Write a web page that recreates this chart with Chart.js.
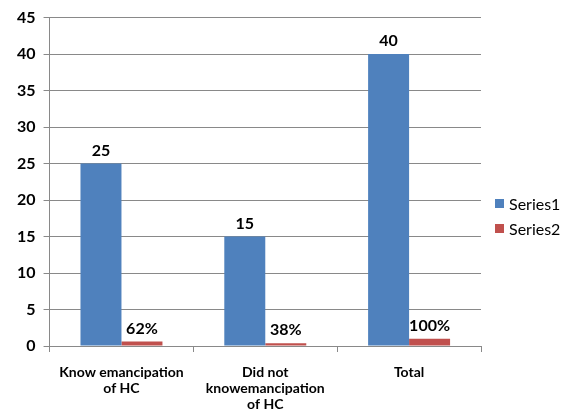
<!DOCTYPE html>
<html>
<head>
<meta charset="utf-8">
<script src="https://cdn.jsdelivr.net/npm/chart.js@4"></script>
<style>
  body { margin: 0; background: #fff; }
  #wrap { position: relative; width: 571px; height: 412px; }
  #legend { position: absolute; left: 495px; top: 191px; font-family: Lato, sans-serif; font-size: 16px; color: #000; }
  #legend div { height: 25px; display: flex; align-items: center; }
  #legend span { display: inline-block; width: 9px; height: 9px; margin-right: 5px; }
</style>
</head>
<body>
<div id="wrap">
  <canvas id="chart" width="571" height="412"></canvas>
  <div id="legend"></div>
</div>
<script>
const categories = [['Know emancipation', 'of HC'], ['Did not', 'knowemancipation', 'of HC'], 'Total'];
const series1 = [25, 15, 40];
const series2 = [0.62, 0.38, 1.0];
const series1Labels = ['25', '15', '40'];
const series2Labels = ['62%', '38%', '100%'];
const yTicks = [0, 5, 10, 15, 20, 25, 30, 35, 40, 45];

const colors = ['#4F81BD', '#C0504D'];
const names = ['Series1', 'Series2'];

// value labels above each bar
const valueLabels = {
  id: 'valueLabels',
  afterDatasetsDraw(chart) {
    const ctx = chart.ctx;
    const texts = [series1Labels, series2Labels];
    ctx.save();
    ctx.font = 'bold 16px Lato, sans-serif';
    ctx.fillStyle = '#000';
    ctx.textAlign = 'center';
    ctx.textBaseline = 'bottom';
    chart.data.datasets.forEach((ds, i) => {
      chart.getDatasetMeta(i).data.forEach((bar, j) => {
        ctx.fillText(texts[i][j], bar.x, bar.y - 5);
      });
    });
    ctx.restore();
  }
};

new Chart(document.getElementById('chart'), {
  type: 'bar',
  data: {
    labels: categories,
    datasets: [
      { label: names[0], data: series1, backgroundColor: colors[0] },
      { label: names[1], data: series2, backgroundColor: colors[1] }
    ]
  },
  options: {
    responsive: false,
    animation: false,
    categoryPercentage: 0.57,
    barPercentage: 1,
    layout: { padding: { top: 14, right: 90, left: 9, bottom: 0 } },
    plugins: {
      legend: { display: false },
      tooltip: { enabled: false }
    },
    scales: {
      x: {
        afterFit(scale) { scale.height = 66; },
        grid: { offset: true, drawOnChartArea: false, color: '#898989', tickLength: 6 },
        border: { color: '#898989' },
        ticks: {
          color: '#000',
          font: { family: 'Lato, sans-serif', size: 14, weight: 'bold', lineHeight: 1.15 },
          maxRotation: 0,
          padding: 12
        }
      },
      y: {
        min: 0,
        max: 45,
        afterBuildTicks(scale) { scale.ticks = yTicks.map(v => ({ value: v })); },
        grid: { color: '#898989', tickLength: 6 },
        border: { color: '#898989' },
        ticks: {
          color: '#000',
          font: { family: 'Lato, sans-serif', size: 16, weight: 'bold' },
          padding: 8
        }
      }
    }
  },
  plugins: [valueLabels]
});

document.getElementById('legend').innerHTML = names.map((n, i) =>
  '<div><span style="background:' + colors[i] + '"></span>' + n + '</div>').join('');
</script>
</body>
</html>
